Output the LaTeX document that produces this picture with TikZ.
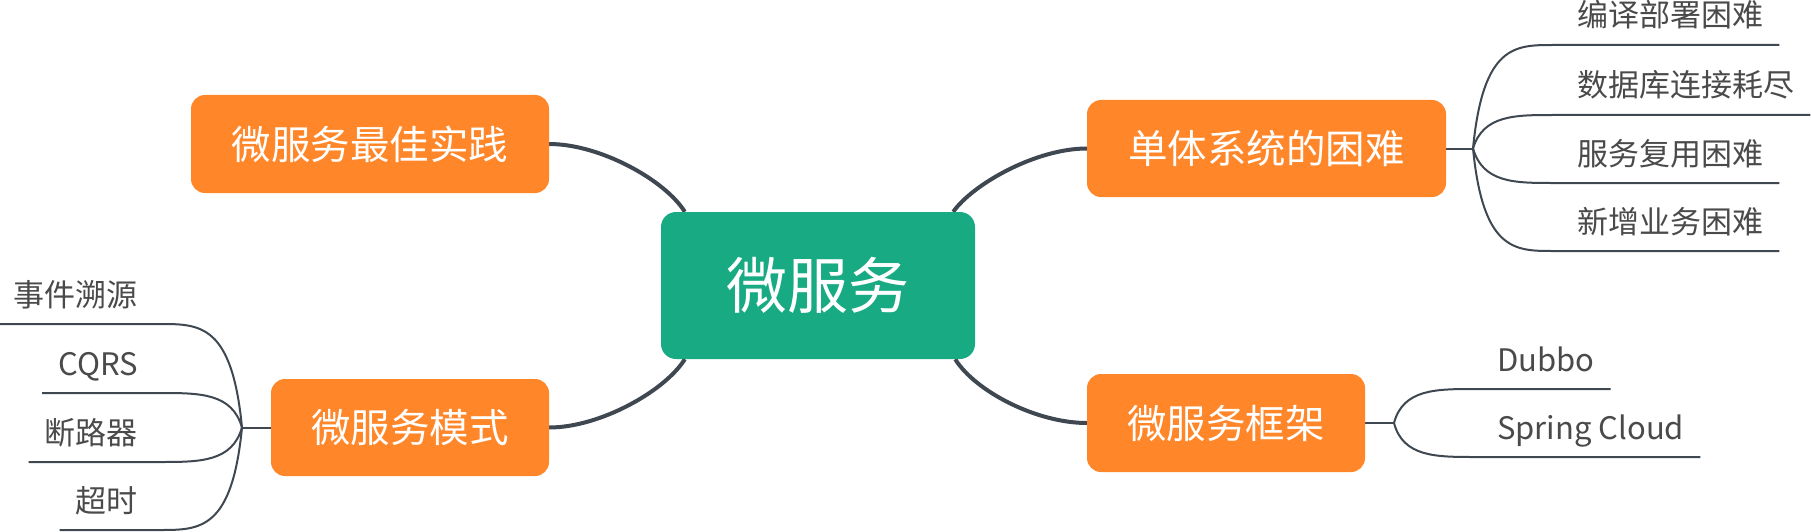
\documentclass[tikz,border=0pt]{standalone}
\usepackage{fontspec}
\setmainfont{Noto Sans CJK SC}
\usetikzlibrary{backgrounds}
\definecolor{morange}{HTML}{FF8629}
\definecolor{mgreen}{HTML}{18AA83}
\definecolor{mline}{HTML}{3F4750}
\definecolor{mtext}{HTML}{4A4A4A}
\begin{document}
\begin{tikzpicture}[x=1pt,y=-1pt,
  topic/.style={rectangle, rounded corners=14pt, fill=morange, text=white,
    font=\fontsize{39.5}{44}\selectfont, inner sep=0pt},
  central/.style={rectangle, rounded corners=15pt, fill=mgreen, text=white,
    font=\fontsize{61}{70}\selectfont, minimum width=314pt, minimum height=147pt, inner sep=0pt},
  sub/.style={text=mtext, font=\fontsize{31}{36}\selectfont, inner xsep=16pt, inner ysep=0pt},
  mainlink/.style={draw=mline, line width=4pt},
  sublink/.style={draw=mline, line width=2pt},
]
\useasboundingbox (0,0) rectangle (1811,532);

% topics
\node[central] (c) at (818,285.5) {微服务};
\node[topic, minimum width=358pt, minimum height=98pt] (best) at (370,144) {微服务最佳实践};
\node[topic, minimum width=359pt, minimum height=97pt] (mono) at (1266.5,148.5) {单体系统的困难};
\node[topic, minimum width=278pt, minimum height=97pt] (pat) at (410,427.5) {微服务模式};
\node[topic, minimum width=278pt, minimum height=98pt] (fw) at (1226,423) {微服务框架};

% sub items (right, mono)
\node[sub, anchor=base west] (m1) at (1561,27) {编译部署困难};
\node[sub, anchor=base west] (m2) at (1561,97) {数据库连接耗尽};
\node[sub, anchor=base west] (m3) at (1561,165) {服务复用困难};
\node[sub, anchor=base west] (m4) at (1561,233) {新增业务困难};

% sub items (left, patterns)
\node[sub, anchor=base east] (p1) at (154,306) {事件溯源};
\node[sub, anchor=base east] (p2) at (154,375) {CQRS};
\node[sub, anchor=base east] (p3) at (154,444) {断路器};
\node[sub, anchor=base east] (p4) at (154,512) {超时};

% sub items (framework)
\node[sub, anchor=base west] (f1) at (1481,371) {Dubbo};
\node[sub, anchor=base west] (f2) at (1481,439) {Spring Cloud};

\coordinate (mb) at (1473,148.5);
\coordinate (pb) at (242,427.5);
\coordinate (fb) at (1394,423);

\begin{scope}[on background layer]
% main connectors
\draw[mainlink] (best.east) .. controls (600,144) and (665,180) .. ([xshift=24pt]c.north west);
\draw[mainlink] (mono.west) .. controls (1036,148.5) and (973,184) .. ([xshift=-22pt]c.north east);
\draw[mainlink] (pat.east) .. controls (600,427.5) and (665,391) .. ([xshift=24pt]c.south west);
\draw[mainlink] (fw.west) .. controls (1036,423) and (975,391) .. ([xshift=-20pt]c.south east);

% mono branches
\draw[sublink] (mono.east) -- (mb);
\draw[sublink] (mb) .. controls (1483,45) and (1515,45) .. (1553,45) -- ([yshift=-18pt]m1.base east);
\draw[sublink] (mb) .. controls (1483,115) and (1515,115) .. (1553,115) -- ([yshift=-18pt]m2.base east);
\draw[sublink] (mb) .. controls (1483,183) and (1515,183) .. (1553,183) -- ([yshift=-18pt]m3.base east);
\draw[sublink] (mb) .. controls (1483,251) and (1515,251) .. (1553,251) -- ([yshift=-18pt]m4.base east);

% pattern branches
\draw[sublink] (pat.west) -- (pb);
\draw[sublink] ([yshift=-18pt]p1.base west) -- (160,324) .. controls (200,324) and (232,324) .. (pb);
\draw[sublink] ([yshift=-18pt]p2.base west) -- (160,393) .. controls (200,393) and (232,393) .. (pb);
\draw[sublink] ([yshift=-18pt]p3.base west) -- (160,462) .. controls (200,462) and (232,462) .. (pb);
\draw[sublink] ([yshift=-18pt]p4.base west) -- (160,530) .. controls (200,530) and (232,530) .. (pb);

% framework branches
\draw[sublink] (fw.east) -- (fb);
\draw[sublink] (fb) .. controls (1403,389) and (1436,389) .. (1475,389) -- ([yshift=-18pt]f1.base east);
\draw[sublink] (fb) .. controls (1403,457) and (1436,457) .. (1475,457) -- ([yshift=-18pt]f2.base east);
\end{scope}
\end{tikzpicture}
\end{document}
